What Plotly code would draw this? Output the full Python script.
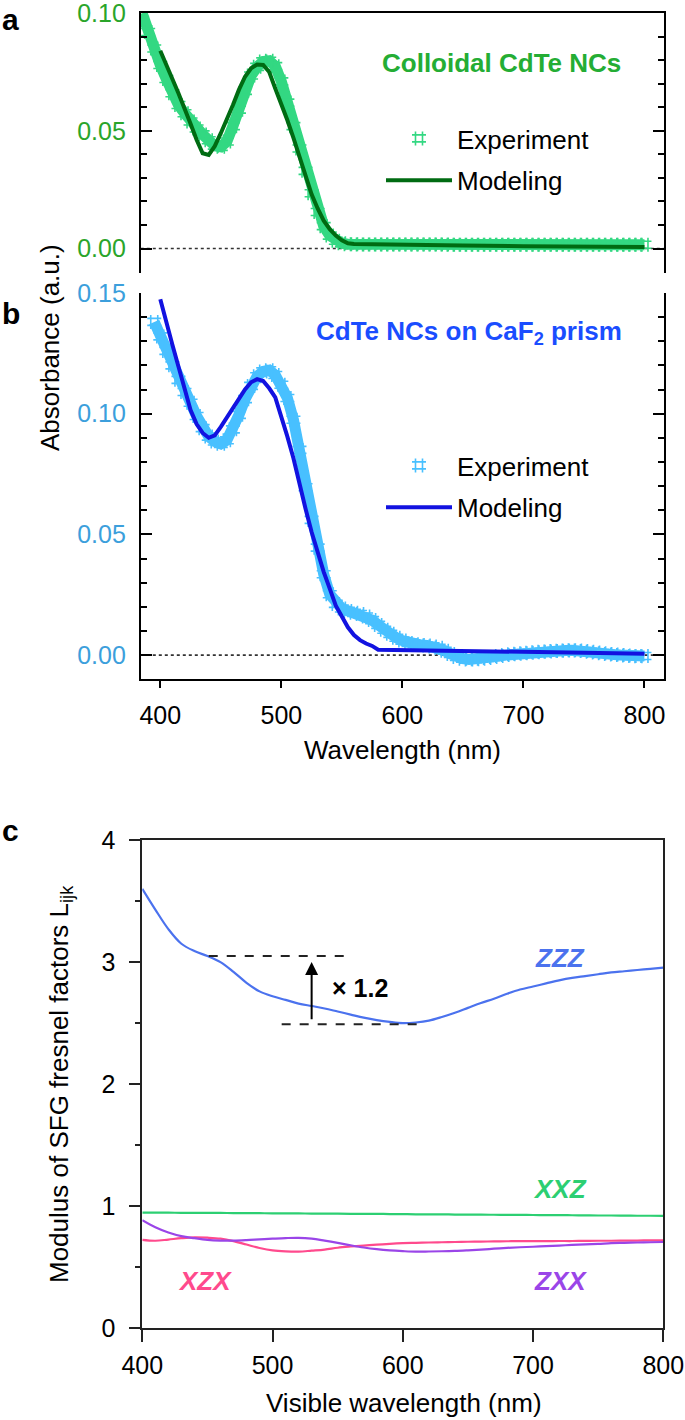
import plotly.graph_objects as go

W, H = 685, 1420
FONT = "Liberation Sans, Arial, Helvetica, sans-serif"

# ---------------- Panel a: colloidal CdTe NCs ----------------
wl_a_exp = [385, 390, 395, 400, 405, 410, 415, 420, 425, 430, 435, 440, 445, 450,
            455, 460, 465, 470, 475, 480, 485, 490, 495, 500, 505, 510, 515, 520,
            525, 530, 535, 540, 545, 550, 555, 560, 565, 570, 575, 580, 585, 590,
            595, 600, 605, 610, 615, 620, 625, 630, 635, 640, 645, 650, 655, 660,
            665, 670, 675, 680, 685, 690, 695, 700, 705, 710, 715, 720, 725, 730,
            735, 740, 745, 750, 755, 760, 765, 770, 775, 780, 785, 790, 795, 800]
abs_a_exp = [0.1000, 0.0920, 0.0850, 0.0780, 0.0720, 0.0660, 0.0610, 0.0575, 0.0540,
             0.0510, 0.0485, 0.0460, 0.0437, 0.0432, 0.0455, 0.0520, 0.0590, 0.0670,
             0.0735, 0.0772, 0.0795, 0.0798, 0.0775, 0.0710, 0.0620, 0.0520, 0.0425,
             0.0330, 0.0235, 0.0155, 0.0095, 0.0055, 0.0033, 0.0022, 0.0018, 0.0018,
             0.0017, 0.0017, 0.0017, 0.0017, 0.0017, 0.0017, 0.0017, 0.0017, 0.0017,
             0.0017, 0.0017, 0.0017, 0.0017, 0.0017, 0.0017, 0.0016, 0.0016, 0.0016,
             0.0016, 0.0016, 0.0016, 0.0016, 0.0016, 0.0016, 0.0016, 0.0016, 0.0016,
             0.0016, 0.0016, 0.0016, 0.0016, 0.0016, 0.0016, 0.0016, 0.0016, 0.0016,
             0.0016, 0.0016, 0.0016, 0.0016, 0.0016, 0.0016, 0.0016, 0.0016, 0.0016,
             0.0016, 0.0016, 0.0016]
wl_a_mod = [400, 405, 410, 415, 420, 425, 430, 435, 440, 445, 450, 455, 460, 465,
            470, 475, 480, 485, 490, 495, 500, 505, 510, 515, 520, 525, 530, 535,
            540, 545, 550, 555, 560, 580, 600, 650, 700, 750, 800]
abs_a_mod = [0.0840, 0.0775, 0.0720, 0.0660, 0.0600, 0.0530, 0.0462, 0.0405, 0.0398,
             0.0435, 0.0490, 0.0547, 0.0610, 0.0675, 0.0730, 0.0766, 0.0782, 0.0780,
             0.0750, 0.0680, 0.0615, 0.0545, 0.0470, 0.0390, 0.0306, 0.0230, 0.0170,
             0.0118, 0.0082, 0.0055, 0.0035, 0.0022, 0.0019, 0.0017, 0.0016, 0.0013,
             0.0010, 0.0008, 0.0006]

# ---------------- Panel b: CdTe NCs on CaF2 prism ----------------
wl_b_exp = [395, 400, 405, 410, 415, 420, 425, 430, 435, 440, 445, 450, 455, 460,
            465, 470, 475, 480, 485, 490, 495, 500, 505, 510, 515, 520, 525, 530,
            535, 540, 545, 550, 555, 560, 565, 570, 575, 580, 585, 590, 595, 600,
            605, 610, 615, 620, 625, 630, 635, 640, 645, 650, 655, 660, 665, 670,
            675, 680, 685, 690, 695, 700, 705, 710, 715, 720, 725, 730, 735, 740,
            745, 750, 755, 760, 765, 770, 775, 780, 785, 790, 795, 800]
abs_b_exp = [0.1380, 0.1320, 0.1260, 0.1200, 0.1140, 0.1090, 0.1045, 0.0990, 0.0940,
             0.0905, 0.0885, 0.0875, 0.0890, 0.0935, 0.0995, 0.1060, 0.1115, 0.1155,
             0.1175, 0.1180, 0.1160, 0.1120, 0.1065, 0.0975, 0.0850, 0.0695, 0.0560,
             0.0445, 0.0335, 0.0252, 0.0212, 0.0193, 0.0183, 0.0175, 0.0170, 0.0160,
             0.0145, 0.0125, 0.0105, 0.0088, 0.0072, 0.0060, 0.0050, 0.0045, 0.0042,
             0.0040, 0.0036, 0.0030, 0.0018, 0.0005, -0.0008, -0.0015, -0.0018,
             -0.0017, -0.0015, -0.0012, -0.0008, -0.0004, 0.0000, 0.0003, 0.0006,
             0.0008, 0.0010, 0.0012, 0.0014, 0.0015, 0.0017, 0.0018, 0.0019, 0.0020,
             0.0019, 0.0017, 0.0014, 0.0011, 0.0008, 0.0005, 0.0002, 0.0000, -0.0002,
             -0.0004, -0.0005, -0.0004]
wl_b_mod = [400, 405, 410, 415, 420, 425, 430, 435, 440, 445, 450, 455, 460, 465,
            470, 475, 480, 485, 490, 495, 500, 505, 510, 515, 520, 525, 530, 535,
            540, 545, 550, 555, 560, 565, 570, 575, 580, 600, 650, 700, 750, 800]
abs_b_mod = [0.1474, 0.1375, 0.1285, 0.1195, 0.1100, 0.1015, 0.0957, 0.0920, 0.0900,
             0.0910, 0.0945, 0.0985, 0.1025, 0.1065, 0.1100, 0.1130, 0.1143, 0.1135,
             0.1105, 0.1067, 0.0990, 0.0905, 0.0815, 0.0705, 0.0606, 0.0510, 0.0420,
             0.0345, 0.0275, 0.0205, 0.0160, 0.0115, 0.0083, 0.0062, 0.0048, 0.0038,
             0.0022, 0.0021, 0.0018, 0.0014, 0.0010, 0.0006]

# ---------------- Panel c: SFG Fresnel factors ----------------
wl_c = [400, 410, 420, 430, 440, 450, 460, 470, 480, 490, 500, 510, 520, 530, 540,
        550, 560, 570, 580, 590, 600, 610, 620, 630, 640, 650, 660, 670, 680, 690,
        700, 710, 720, 730, 740, 750, 760, 770, 780, 790, 800]
L_zzz = [3.60, 3.43, 3.27, 3.15, 3.09, 3.05, 3.00, 2.92, 2.83, 2.76, 2.72, 2.69,
         2.66, 2.64, 2.62, 2.595, 2.57, 2.545, 2.525, 2.51, 2.50, 2.505, 2.52, 2.55,
         2.585, 2.625, 2.665, 2.70, 2.74, 2.775, 2.80, 2.825, 2.85, 2.87, 2.885,
         2.90, 2.915, 2.925, 2.935, 2.945, 2.955]
L_xxz = [0.948, 0.947, 0.947, 0.946, 0.946, 0.945, 0.945, 0.944, 0.944, 0.943, 0.942,
         0.942, 0.941, 0.940, 0.940, 0.939, 0.938, 0.937, 0.937, 0.936, 0.935, 0.934,
         0.934, 0.933, 0.932, 0.931, 0.931, 0.930, 0.929, 0.929, 0.928, 0.927, 0.927,
         0.926, 0.925, 0.924, 0.924, 0.923, 0.922, 0.922, 0.921]
L_xzx = [0.724, 0.717, 0.727, 0.738, 0.745, 0.742, 0.734, 0.714, 0.686, 0.658, 0.638,
         0.630, 0.628, 0.636, 0.645, 0.660, 0.670, 0.678, 0.685, 0.692, 0.697, 0.700,
         0.703, 0.705, 0.707, 0.709, 0.710, 0.712, 0.713, 0.714, 0.714, 0.714, 0.715,
         0.715, 0.716, 0.717, 0.717, 0.718, 0.719, 0.720, 0.721]
L_zxx = [0.886, 0.828, 0.785, 0.755, 0.738, 0.724, 0.718, 0.718, 0.722, 0.728, 0.734,
         0.739, 0.741, 0.734, 0.718, 0.700, 0.680, 0.662, 0.648, 0.638, 0.632, 0.628,
         0.629, 0.631, 0.634, 0.639, 0.645, 0.652, 0.659, 0.664, 0.668, 0.673, 0.678,
         0.683, 0.688, 0.692, 0.697, 0.700, 0.703, 0.705, 0.707]

# ---------------- styling ----------------
GREEN_TICK = "#2aa52a"
GREEN_TITLE = "#24ad34"
EXP_A = "#33d882"
MOD_A = "#006b12"
BLUE_TICK = "#3c9fdc"
BLUE_TITLE = "#1a4dff"
EXP_B = "#48c0ff"
MOD_B = "#1212e0"
C_ZZZ = "#4b72ee"
C_XXZ = "#2ccf72"
C_XZX = "#ff4a8d"
C_ZXX = "#9a45e8"


def px(x):
    return x / W


def py(y):
    return 1 - y / H


fig = go.Figure()

# panel a
fig.add_trace(go.Scatter(x=wl_a_exp, y=abs_a_exp, mode="lines", xaxis="x", yaxis="y",
                         line=dict(color=EXP_A, width=11), showlegend=False, hoverinfo="skip"))
fig.add_trace(go.Scatter(x=wl_a_exp, y=abs_a_exp, mode="markers", xaxis="x", yaxis="y",
                         name="Experiment", legend="legend", legendgroup="ea",
                         marker=dict(symbol="hash-open", size=14, color=EXP_A,
                                     line=dict(color=EXP_A, width=1.6))))
fig.add_trace(go.Scatter(x=wl_a_mod, y=abs_a_mod, mode="lines", xaxis="x", yaxis="y",
                         name="Modeling", legend="legend", legendgroup="ma",
                         line=dict(color=MOD_A, width=4)))

# panel b
fig.add_trace(go.Scatter(x=wl_b_exp, y=abs_b_exp, mode="lines", xaxis="x2", yaxis="y2",
                         line=dict(color=EXP_B, width=11), showlegend=False, hoverinfo="skip"))
fig.add_trace(go.Scatter(x=wl_b_exp, y=abs_b_exp, mode="markers", xaxis="x2", yaxis="y2",
                         name="Experiment", legend="legend2", legendgroup="eb",
                         marker=dict(symbol="hash-open", size=14, color=EXP_B,
                                     line=dict(color=EXP_B, width=1.6))))
fig.add_trace(go.Scatter(x=wl_b_mod, y=abs_b_mod, mode="lines", xaxis="x2", yaxis="y2",
                         name="Modeling", legend="legend2", legendgroup="mb",
                         line=dict(color=MOD_B, width=4)))

# panel c
for yv, col in [(L_zzz, C_ZZZ), (L_xxz, C_XXZ), (L_xzx, C_XZX), (L_zxx, C_ZXX)]:
    fig.add_trace(go.Scatter(x=wl_c, y=yv, mode="lines", xaxis="x3", yaxis="y3",
                             line=dict(color=col, width=2.2, shape="spline"),
                             showlegend=False))

XDOM = [px(140.8), px(663.6)]
XRANGE = [383.9, 815.8]
tickfont = dict(family=FONT, size=25, color="black")

absy_common = dict(showline=True, linecolor="black", linewidth=2, mirror="ticks",
                   ticks="inside", ticklen=11, tickwidth=2, tickcolor="black",
                   tickvals=[0, 0.05, 0.10, 0.15], ticktext=["0.00", "0.05", "0.10", "0.15"],
                   minor=dict(dtick=0.01, ticks="inside", ticklen=6, tickwidth=2,
                              tickcolor="black", showgrid=False),
                   showgrid=False, zeroline=False, ticklabelstandoff=8, automargin=False,
                   ticklabeloverflow="allow")

fig.update_layout(
    width=W, height=H,
    margin=dict(l=0, r=0, t=0, b=0, autoexpand=False),
    paper_bgcolor="white", plot_bgcolor="white",
    font=dict(family=FONT, size=25, color="black"),
    xaxis=dict(domain=XDOM, anchor="y", range=XRANGE, side="top", showline=True,
               linecolor="black", linewidth=2, ticks="", showticklabels=False,
               showgrid=False, zeroline=False, automargin=False),
    yaxis=dict(domain=[py(273), py(12.7)], anchor="x", range=[-0.0104, 0.1002],
               tickfont=dict(family=FONT, size=25, color=GREEN_TICK), **absy_common),
    xaxis2=dict(domain=XDOM, anchor="y2", range=XRANGE, showline=True,
                linecolor="black", linewidth=2, ticks="outside", ticklen=7, tickwidth=2,
                tickcolor="black", tickvals=[400, 500, 600, 700, 800],
                tickfont=tickfont, showgrid=False, zeroline=False, ticklabelstandoff=6,
                automargin=False, ticklabeloverflow="allow"),
    yaxis2=dict(domain=[py(679), py(292.7)], anchor="x2", range=[-0.0099, 0.1501],
                tickfont=dict(family=FONT, size=25, color=BLUE_TICK), **absy_common),
    xaxis3=dict(domain=[px(142.3), px(663.3)], anchor="y3", range=[400, 800],
                showline=True, mirror=True, linecolor="#222", linewidth=1.6,
                ticks="outside", ticklen=12, tickwidth=1.6, tickcolor="#222",
                tickvals=[400, 500, 600, 700, 800], tickfont=tickfont,
                showgrid=False, zeroline=False, ticklabelstandoff=2, automargin=False,
                ticklabeloverflow="allow"),
    yaxis3=dict(domain=[py(1328.3), py(840)], anchor="x3", range=[0, 4],
                showline=True, mirror=True, linecolor="#222", linewidth=1.6,
                ticks="outside", ticklen=12, tickwidth=1.6, tickcolor="#222",
                tickvals=[0, 1, 2, 3, 4], tickfont=tickfont,
                minor=dict(dtick=0.5, ticks="outside", ticklen=6, tickwidth=1.6,
                           tickcolor="#222", showgrid=False),
                showgrid=False, zeroline=False, ticklabelstandoff=8, automargin=False,
                ticklabeloverflow="allow"),
    legend=dict(x=px(381), xanchor="left", y=py(115), yanchor="top",
                font=dict(family=FONT, size=26, color="black"), bgcolor="rgba(0,0,0,0)",
                itemwidth=66, tracegroupgap=5, traceorder="grouped"),
    legend2=dict(x=px(381), xanchor="left", y=py(442), yanchor="top",
                 font=dict(family=FONT, size=26, color="black"), bgcolor="rgba(0,0,0,0)",
                 itemwidth=66, tracegroupgap=5, traceorder="grouped"),
    showlegend=True,
)

# zero reference lines (dotted)
for yref, xref in [("y", "x domain"), ("y2", "x2 domain")]:
    fig.add_shape(type="line", xref=xref, x0=0, x1=1, yref=yref, y0=0, y1=0,
                  line=dict(color="#333", width=1.6, dash="dot"), layer="below")

# panel c guide lines (x1.2)
fig.add_shape(type="line", xref="x3", yref="y3", x0=451, x1=556, y0=3.05, y1=3.05,
              line=dict(color="#222", width=2, dash="dash"))
fig.add_shape(type="line", xref="x3", yref="y3", x0=507, x1=611, y0=2.49, y1=2.49,
              line=dict(color="#222", width=2, dash="dash"))


def ptext(text, x, y, size, color="black", angle=0, xanchor="center"):
    return dict(text=text, x=px(x), y=py(y), xref="paper", yref="paper",
                xanchor=xanchor, yanchor="middle", showarrow=False, textangle=angle,
                font=dict(size=size, color=color, family=FONT))


ann = []
# panel letters
ann.append(ptext("<b>a</b>", 0, 20, 30, xanchor="left"))
ann.append(ptext("<b>b</b>", 0, 313, 30, xanchor="left"))
ann.append(ptext("<b>c</b>", 0, 830, 30, xanchor="left"))
# panel titles
ann.append(ptext("<b>Colloidal CdTe NCs</b>", 501, 63, 26, GREEN_TITLE))
ann.append(ptext("<b>CdTe NCs on CaF<sub>2</sub> prism</b>", 469, 332, 26, BLUE_TITLE))
# axis titles
ann.append(ptext("Absorbance (a.u.)", 50, 347, 26, angle=-90))
ann.append(ptext("Wavelength (nm)", 402, 750, 26))
ann.append(ptext("Modulus of SFG fresnel factors L<sub>ijk</sub>", 60, 1084, 26, angle=-90))
ann.append(ptext("Visible wavelength (nm)", 404, 1403, 26))
# panel c curve labels
for txt, xx, yy, col in [("ZZZ", 721, 3.03, C_ZZZ), ("XXZ", 721, 1.14, C_XXZ),
                         ("XZX", 448, 0.39, C_XZX), ("ZXX", 721, 0.39, C_ZXX)]:
    ann.append(dict(text="<b><i>%s</i></b>" % txt, x=xx, y=yy, xref="x3", yref="y3",
                    xanchor="center", yanchor="middle", showarrow=False,
                    font=dict(size=26, color=col, family=FONT)))
# arrow and factor
ann.append(dict(text="", x=530, y=3.0, ax=530, ay=2.52, xref="x3", yref="y3",
                axref="x3", ayref="y3", showarrow=True, arrowhead=2, arrowsize=1.3,
                arrowwidth=2, arrowcolor="black"))
ann.append(dict(text="<b>× 1.2</b>", x=544, y=2.79, xref="x3", yref="y3", xanchor="left",
                yanchor="middle", showarrow=False,
                font=dict(size=25, color="black", family=FONT)))

fig.update_layout(annotations=ann)
# remove the default 8 px page margin so the figure fills the window exactly
fig.write_html("out.html", config={"displayModeBar": False},
               post_script="document.body.style.margin='0';")
